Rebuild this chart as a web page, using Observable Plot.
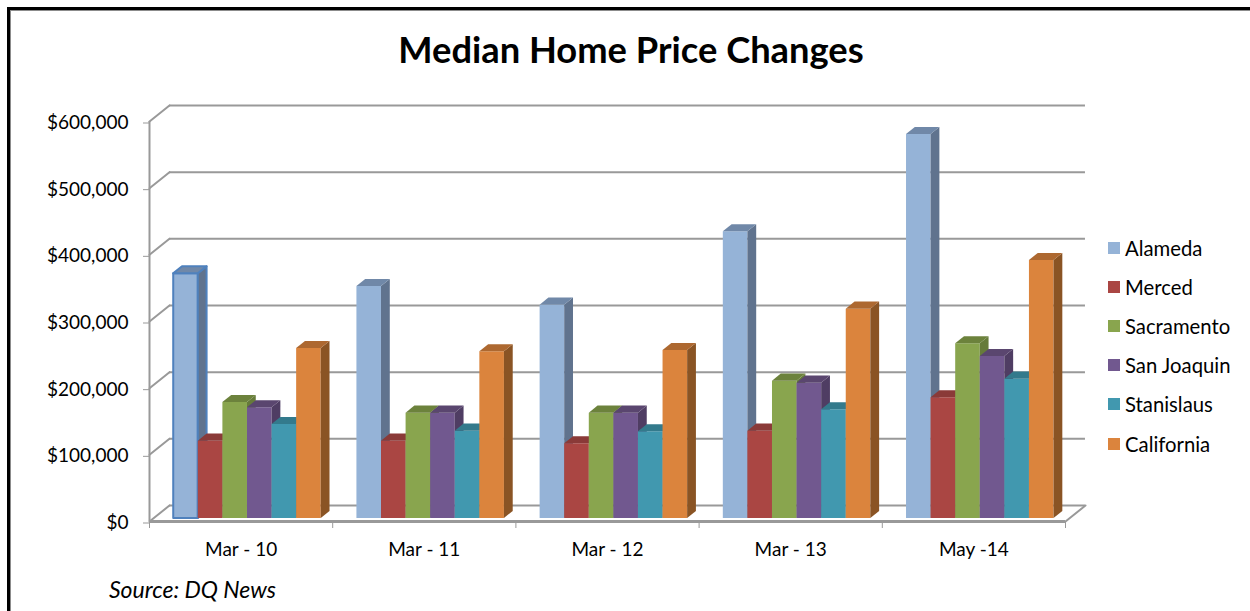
<!DOCTYPE html>
<html><head><meta charset="utf-8">
<script src="https://cdn.jsdelivr.net/npm/d3@7"></script>
<script src="https://cdn.jsdelivr.net/npm/@observablehq/plot@0.6"></script>
<style>
html,body{margin:0;padding:0;background:#fff;}
#page{position:relative;width:1250px;height:611px;overflow:hidden;font-family:Lato,sans-serif;color:#000;}
#frame{position:absolute;left:7px;top:7px;width:1260px;height:620px;border:3px solid #000;box-sizing:border-box;box-shadow:inset 1px 1px 0 #8c8c8c;pointer-events:none;}
#title{position:absolute;left:0;top:26px;width:1262px;text-align:center;font-size:36.3px;font-weight:700;line-height:46px;}
#chart{position:absolute;left:0;top:0;}
#legend{position:absolute;left:1108px;top:228px;}
.item{display:flex;align-items:center;height:39.2px;font-size:20.3px;}
.sw{width:12px;height:12px;margin-right:5px;}
#source{position:absolute;left:109px;top:575px;font-size:23px;font-style:italic;line-height:28px;}
</style></head><body>
<div id="page">
<div id="chart"></div>
<div id="frame"></div>
<div id="title">Median Home Price Changes</div>
<div id="legend"></div>
<div id="source">Source: DQ News</div>
</div>
<script>
const periods = ["Mar - 10","Mar - 11","Mar - 12","Mar - 13","May -14"];
const counties = ["Alameda","Merced","Sacramento","San Joaquin","Stanislaus","California"];
const alameda    = [367000,348000,320000,430000,576000];
const merced     = [116000,116000,112000,131000,181000];
const sacramento = [174000,158000,158000,206000,262000];
const sanJoaquin = [166000,158000,158000,203000,243000];
const stanislaus = [141000,131000,130000,163000,209000];
const california = [255000,250000,252000,314000,387000];
const series = [alameda,merced,sacramento,sanJoaquin,stanislaus,california];
const frontColors = ["#95b3d7","#aa4643","#89a54e","#71588f","#4198af","#db843d"];
const sideColors  = ["#60738e","#7f3432","#667b3a","#4f3d63","#316f80","#8a5424"];
const topColors   = ["#7088a8","#8a3a38","#6c823c","#5a466f","#337a8c","#ad6830"];
const gridValues = [0,100000,200000,300000,400000,500000,600000];

// pseudo-3D box model, in data units
const depthX = 0.109, depthY = 24000;      // full floor depth
const barFrom = 0.22, barTo = 0.66;        // bar depth slice within floor
const barW = 0.1342, groupPad = 0.1005;
const px = (x,d)=>x+d*depthX, py = (v,d)=>v+d*depthY;

const faces = [];
periods.forEach((p,i)=>{
  series.forEach((s,j)=>{
    const x0=i+groupPad+j*barW, x1=x0+barW, v=s[i];
    const xa=x0+0.005, xb=x1+0.005;
    const d0=barFrom,d1=barTo;
    const poly=(name,fill,pts)=>pts.forEach(q=>faces.push({face:`${i}-${j}-${name}`,fill,x:px(q[0],q[1]),y:py(q[2],q[1]),sel:i===0&&j===0}));
    poly("front",frontColors[j],[[xa,d0,0],[xb,d0,0],[xb,d0,v],[xa,d0,v],[xa,d0,0]]);
    poly("side",sideColors[j],[[xb,d0,0],[xb,d1,0],[xb,d1,v],[xb,d0,v],[xb,d0,0]]);
    poly("top",topColors[j],[[xa,d0,v],[xb,d0,v],[xb,d1,v],[xa,d1,v],[xa,d0,v]]);
  });
});

const back = gridValues.map(v=>({v}));
const leftWall = gridValues.flatMap(v=>[{k:v,x:0,y:v},{k:v,x:depthX,y:v+depthY}]);
const floor = [{x:5,y:0},{x:5+depthX,y:depthY}];
const gridColor = "#999999";

const chart = Plot.plot({
  width:1250,height:611,
  marginLeft:149,marginRight:185,marginTop:121,marginBottom:90,
  style:{fontFamily:"Lato,sans-serif",background:"transparent",color:"#000"},
  x:{type:"linear",domain:[0,5],range:[149,1065],axis:null},
  y:{type:"linear",domain:[0,600000],range:[521,121],axis:null},
  marks:[
    Plot.ruleY(back,{y:d=>d.v+depthY,x1:depthX,x2:5+depthX,stroke:gridColor,strokeWidth:2}),
    Plot.line(leftWall,{x:"x",y:"y",z:"k",stroke:gridColor,strokeWidth:2}),
    Plot.line(floor,{x:"x",y:"y",stroke:gridColor,strokeWidth:2}),
    Plot.ruleX([0],{y1:0,y2:600000,stroke:gridColor,strokeWidth:2}),
    Plot.ruleY([0],{x1:0,x2:5,stroke:gridColor,strokeWidth:3}),
    Plot.axisY({ticks:gridValues,tickFormat:d3.format("$,"),tickSize:6,tickPadding:15,stroke:gridColor,fontSize:19,fill:"#000",label:null,marginLeft:149,dy:1.5}),
    Plot.axisX({ticks:[0,1,2,3,4,5],tickFormat:()=>"",tickSize:7,stroke:gridColor,label:null}),
    Plot.axisX({ticks:[0.5,1.5,2.5,3.5,4.5],tickFormat:d=>periods[d-0.5],tickSize:0,tickPadding:21,fontSize:19,fill:"#000",label:null}),
    Plot.line(faces,{x:"x",y:"y",z:"face",fill:"fill",stroke:d=>d.sel?"#4f81bd":"none",strokeWidth:2,curve:"linear"})
  ]
});
document.getElementById("chart").appendChild(chart);

const legend=document.getElementById("legend");
counties.forEach((c,j)=>{
  const it=document.createElement("div");it.className="item";
  const sw=document.createElement("span");sw.className="sw";sw.style.background=frontColors[j];
  const t=document.createElement("span");t.textContent=c;
  it.append(sw,t);legend.append(it);
});
</script>
</body></html>
